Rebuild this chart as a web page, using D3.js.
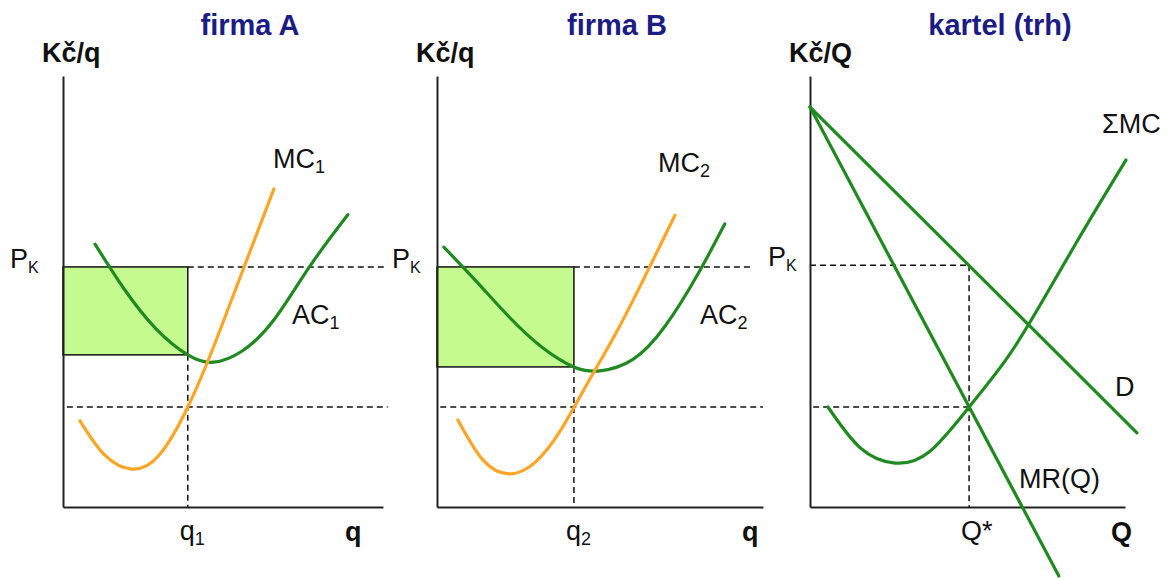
<!DOCTYPE html>
<html>
<head>
<meta charset="utf-8">
<script src="https://cdn.jsdelivr.net/npm/d3@7"></script>
<style>
  body { margin: 0; background: #fff; }
  text { font-family: "Liberation Sans", Arial, sans-serif; fill: #111; }
</style>
</head>
<body>
<svg class="chart"></svg>
<script>
// values (x: quantity 0-10, y: price 0-10)
var titles = ["firma A", "firma B", "kartel (trh)"];
var yLabels = ["Kč/q", "Kč/q", "Kč/Q"];
var xLabels = ["q", "q", "Q"];
var qLabels = [["q", "1"], ["q", "2"], ["Q*", ""]];
var optQ = [3.9, 4.2, 5.05];        // q1, q2, Q*
var priceK = [5.57, 5.57, 5.61];    // P_K
var mcLevel = [2.32, 2.32, 2.32];   // MC = MR level
var acAtOpt = [3.53, 3.25];         // AC at q1, q2 (bottom of profit box)

var ac1 = [[1.0, 6.1], [1.9, 5.07], [2.9, 4.14], [3.9, 3.53], [4.7, 3.36], [5.6, 3.62], [6.6, 4.35], [7.7, 5.57], [8.9, 6.78]];
var mc1 = [[0.53, 2.0], [1.3, 1.21], [2.16, 0.88], [3.0, 1.2], [3.9, 2.32], [4.75, 3.8], [5.65, 5.55], [6.59, 7.38]];
var ac2 = [[0.21, 6.03], [1.2, 5.24], [2.2, 4.42], [3.2, 3.72], [4.2, 3.25], [5.0, 3.16], [6.0, 3.42], [7.0, 4.2], [8.0, 5.4], [8.83, 6.57]];
var mc2 = [[0.64, 2.02], [1.4, 1.1], [2.2, 0.77], [3.0, 1.03], [3.8, 1.79], [4.6, 2.85], [5.5, 4.05], [6.4, 5.38], [7.3, 6.77]];
var sumMC = [[0.57, 2.32], [1.6, 1.37], [2.7, 1.02], [3.8, 1.29], [5.05, 2.32], [6.3, 3.5], [7.5, 4.93], [8.75, 6.5], [10.03, 8.05]];
var demand = [[0, 9.28], [10.38, 1.72]];
var marginalRevenue = [[0, 9.28], [7.9, -1.6]];

var width = 1171, height = 579;

var green = '#1f8a1f', orange = '#ffa526', boxFill = '#c5fa8e', navy = '#1c1c85';

var chart = d3.select('.chart')
  .attr('width', width)
  .attr('height', height);

var y = d3.scaleLinear().domain([0, 10]).range([507, 76]);
var xs = [
  d3.scaleLinear().domain([0, 10]).range([63, 383]),
  d3.scaleLinear().domain([0, 10]).range([437, 763]),
  d3.scaleLinear().domain([0, 10]).range([810, 1125])
];

function curve(x) {
  return d3.line()
    .x(function(d) { return x(d[0]); })
    .y(function(d) { return y(d[1]); })
    .curve(d3.curveNatural);
}

function dashed(g, x1, y1, x2, y2) {
  g.append('line')
    .attr('x1', x1).attr('y1', y1).attr('x2', x2).attr('y2', y2)
    .attr('stroke', '#111')
    .attr('stroke-width', 1.5)
    .attr('stroke-dasharray', '6,4');
}

// text with optional subscript
function label(g, px, py, main, sub, size, subSize) {
  var t = g.append('text')
    .attr('x', px).attr('y', py)
    .style('font-size', size + 'px');
  t.append('tspan').text(main);
  if (sub) {
    t.append('tspan')
      .attr('dy', 5)
      .style('font-size', subSize + 'px')
      .text(sub);
  }
  return t;
}

[0, 1, 2].forEach(function(i) {
  var x = xs[i];
  var g = chart.append('g').attr('class', 'panel');

  // profit box for the two firms
  if (i < 2) {
    g.append('rect')
      .attr('x', x(0))
      .attr('y', y(priceK[i]))
      .attr('width', x(optQ[i]) - x(0))
      .attr('height', y(acAtOpt[i]) - y(priceK[i]))
      .attr('fill', boxFill)
      .attr('stroke', '#111')
      .attr('stroke-width', 1.5);
  }

  // guide lines
  if (i === 0) {
    dashed(g, x(optQ[i]), y(priceK[i]), x(10.1), y(priceK[i]));
    dashed(g, x(0.12), y(mcLevel[i]), x(10.15), y(mcLevel[i]));
    dashed(g, x(optQ[i]), y(acAtOpt[i]), x(optQ[i]), y(0));
  } else if (i === 1) {
    dashed(g, x(optQ[i]), y(priceK[i]), x(9.7), y(priceK[i]));
    dashed(g, x(0.1), y(mcLevel[i]), x(10), y(mcLevel[i]));
    dashed(g, x(optQ[i]), y(acAtOpt[i]), x(optQ[i]), y(0));
  } else {
    dashed(g, x(0), y(priceK[i]), x(optQ[i]), y(priceK[i]));
    dashed(g, x(0.1), y(mcLevel[i]), x(optQ[i]), y(mcLevel[i]));
    dashed(g, x(optQ[i]), y(priceK[i]), x(optQ[i]), y(0));
  }

  // axes (plain lines, no ticks)
  g.append('g')
    .attr('transform', 'translate(' + x(0) + ',0)')
    .call(d3.axisLeft(y).tickValues([]).tickSizeOuter(0));
  g.append('g')
    .attr('transform', 'translate(0,' + y(0) + ')')
    .call(d3.axisBottom(x).tickValues([]).tickSizeOuter(0));
  g.selectAll('.domain').attr('stroke', '#222').attr('stroke-width', 2);

  // curves
  var curves = i === 0 ? [[ac1, green], [mc1, orange]]
             : i === 1 ? [[ac2, green], [mc2, orange]]
             : [[demand, green], [marginalRevenue, green], [sumMC, green]];
  curves.forEach(function(c) {
    g.append('path')
      .datum(c[0])
      .attr('d', curve(x))
      .attr('fill', 'none')
      .attr('stroke', c[1])
      .attr('stroke-width', 3.2)
      .attr('stroke-linecap', 'round');
  });

  // titles and axis names
  g.append('text')
    .attr('x', [250, 617, 1000][i])
    .attr('y', 35)
    .attr('text-anchor', 'middle')
    .style('font-size', '29px')
    .style('font-weight', 'bold')
    .style('fill', navy)
    .text(titles[i]);

  g.append('text')
    .attr('x', x(0) - 21)
    .attr('y', 62)
    .style('font-size', '27px')
    .style('font-weight', 'bold')
    .text(yLabels[i]);

  g.append('text')
    .attr('x', [345, 742, 1111][i])
    .attr('y', 541)
    .style('font-size', '27px')
    .style('font-weight', 'bold')
    .text(xLabels[i]);

  // P_K and q labels
  label(g, [10, 392, 768][i], y(priceK[i]) + 1, 'P', 'K', 27, 16);
  label(g, x(optQ[i]) - 8, 540, qLabels[i][0], qLabels[i][1], 27, 18);
});

// curve names
var lab = chart.append('g');
label(lab, 273, 168, 'MC', '1', 27, 18);
label(lab, 292, 324, 'AC', '1', 27, 18);
label(lab, 658, 172, 'MC', '2', 27, 18);
label(lab, 700, 324, 'AC', '2', 27, 18);
label(lab, 1102, 133, 'ΣMC', '', 27, 18);
label(lab, 1115, 396, 'D', '', 27, 18);
label(lab, 1019, 488, 'MR(Q)', '', 27, 18);
</script>
</body>
</html>
